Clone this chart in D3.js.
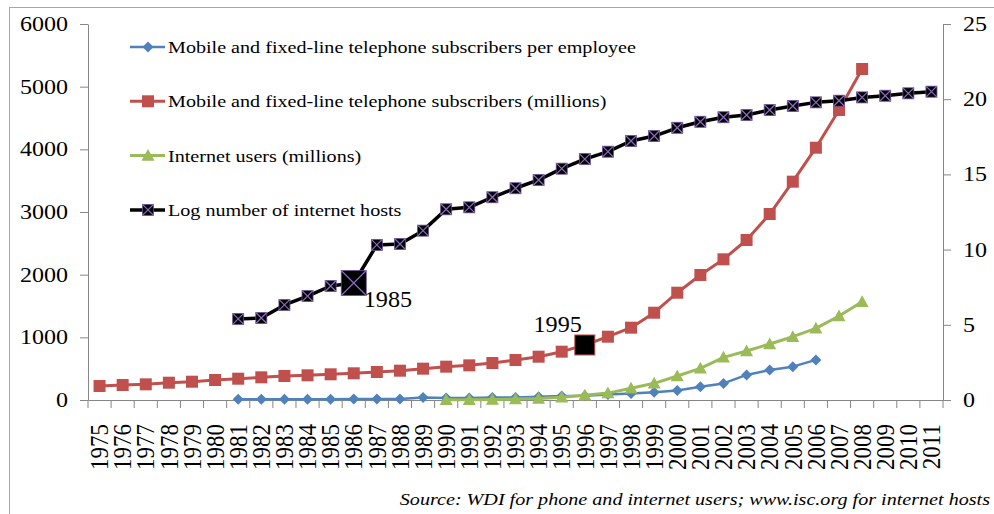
<!DOCTYPE html>
<html>
<head>
<meta charset="utf-8">
<script src="https://cdn.jsdelivr.net/npm/d3@7"></script>
<style>
  body { margin: 0; background: #fff; }
  text { font-family: "Liberation Serif", "Times New Roman", serif; fill: #000; }
</style>
</head>
<body>
<script>
// categories (x axis)
var years = ["1975","1976","1977","1978","1979","1980","1981","1982","1983","1984",
             "1985","1986","1987","1988","1989","1990","1991","1992","1993","1994",
             "1995","1996","1997","1998","1999","2000","2001","2002","2003","2004",
             "2005","2006","2007","2008","2009","2010","2011"];

// subscribers per employee, 1981-2006 (left axis)
var employeeStart = 1981;
var employeeVals = [12,12,12,13,13,14,15,16,40,30,32,40,38,52,62,68,88,105,122,150,212,265,400,478,532,640];

// subscribers (millions), 1975-2008 (left axis)
var phoneStart = 1975;
var phoneVals = [223,239,250,276,292,319,340,362,383,394,410,426,447,468,500,532,553,590,638,691,
                 771,878,1010,1154,1393,1712,1995,2245,2553,2968,3484,4026,4628,5282];

// internet users (millions), 1990-2008 (left axis)
var netStart = 1990;
var netVals = [3,4,7,14,25,45,75,110,186,266,383,505,681,782,894,1010,1144,1340,1569];

// log number of internet hosts, 1981-2011 (right axis)
var hostStart = 1981;
var hostVals = [5.39,5.45,6.32,6.91,7.58,7.78,10.31,10.37,11.26,12.68,12.81,13.48,14.08,14.63,15.38,16.02,
                16.51,17.22,17.55,18.10,18.50,18.80,18.95,19.28,19.55,19.79,19.90,20.12,20.23,20.39,20.50];

var leftTicks = [0,1000,2000,3000,4000,5000,6000];
var rightTicks = [0,5,10,15,20,25];

var legendNames = [
  "Mobile and fixed-line telephone subscribers per employee",
  "Mobile and fixed-line telephone subscribers (millions)",
  "Internet users (millions)",
  "Log number of internet hosts"
];

var width = 994, height = 514;

var svg = d3.select("body").append("svg")
  .attr("width", width)
  .attr("height", height);

// outer chart border
svg.append("rect")
  .attr("x", 9.5).attr("y", 7.5)
  .attr("width", 1000).attr("height", 520)
  .attr("fill", "none")
  .attr("stroke", "#a6a6a6");

var x = d3.scaleBand().domain(years).range([88, 943]);
var yL = d3.scaleLinear().domain([0, 6000]).range([400, 24]);
var yR = d3.scaleLinear().domain([0, 25]).range([400, 24]);

function cx(yr) { return x(String(yr)) + x.bandwidth() / 2; }

var axisColor = "#868686";

// left axis
var gl = svg.append("g").attr("transform", "translate(88,0)")
  .call(d3.axisLeft(yL).tickValues(leftTicks).tickFormat(d3.format("d"))
    .tickSize(8).tickSizeOuter(0).tickPadding(12));
gl.selectAll("text")
  .style("font-size", "20px")
  .attr("transform", function() { return "translate(" + this.getAttribute("x") + ",0) scale(1.2,1)"; })
  .attr("x", 0);

// right axis
var gr = svg.append("g").attr("transform", "translate(943,0)")
  .call(d3.axisRight(yR).tickValues(rightTicks).tickFormat(d3.format("d"))
    .tickSize(8).tickSizeOuter(0).tickPadding(12));
gr.selectAll("text")
  .style("font-size", "20px")
  .attr("transform", function() { return "translate(" + this.getAttribute("x") + ",0) scale(1.2,1)"; })
  .attr("x", 0);

// bottom axis line + boundary ticks
var gb = svg.append("g").attr("transform", "translate(0,400)")
  .call(d3.axisBottom(x).tickSize(0).tickFormat(""));
var bounds = years.map(function(d) { return x(d); }).concat([x.range()[1]]);
gb.selectAll("line.bt").data(bounds).enter().append("line")
  .attr("class", "bt")
  .attr("x1", function(d) { return d; }).attr("x2", function(d) { return d; })
  .attr("y1", 0).attr("y2", 8)
  .attr("stroke", axisColor);

// year labels
svg.append("g").selectAll("text").data(years).enter().append("text")
  .attr("transform", function(d) { return "translate(" + cx(d) + ",424) scale(1.08,1) rotate(-90)"; })
  .attr("text-anchor", "end")
  .attr("dy", "0.35em")
  .style("font-size", "23px")
  .text(function(d) { return d; });

svg.selectAll(".domain, .tick line").attr("stroke", axisColor);

// marker drawing
function marker(g, type, px, py, size, color) {
  var s = size / 2;
  if (type === "diamond") {
    g.append("path")
      .attr("d", "M" + px + "," + (py - s) + "L" + (px + s) + "," + py + "L" + px + "," + (py + s) + "L" + (px - s) + "," + py + "Z")
      .attr("fill", color);
  } else if (type === "square") {
    g.append("rect").attr("x", px - s).attr("y", py - s).attr("width", size).attr("height", size)
      .attr("fill", color);
  } else if (type === "triangle") {
    g.append("path")
      .attr("d", "M" + px + "," + (py - s) + "L" + (px + s) + "," + (py + s * 0.8) + "L" + (px - s) + "," + (py + s * 0.8) + "Z")
      .attr("fill", color);
  } else if (type === "xsquare") {
    g.append("rect").attr("x", px - s).attr("y", py - s).attr("width", size).attr("height", size)
      .attr("fill", "#000").attr("stroke", "#6a4c93").attr("stroke-width", 0.8);
    g.append("path")
      .attr("d", "M" + (px - s) + "," + (py - s) + "L" + (px + s) + "," + (py + s) + "M" + (px + s) + "," + (py - s) + "L" + (px - s) + "," + (py + s))
      .attr("stroke", "#8a6cc0").attr("stroke-width", 1.2);
  }
}

var series = [
  { name: legendNames[0], start: employeeStart, vals: employeeVals, y: yL, color: "#4f81bd", width: 2.5, type: "diamond", size: 11 },
  { name: legendNames[1], start: phoneStart, vals: phoneVals, y: yL, color: "#c0504d", width: 3, type: "square", size: 12 },
  { name: legendNames[2], start: netStart, vals: netVals, y: yL, color: "#9bbb59", width: 3, type: "triangle", size: 13 },
  { name: legendNames[3], start: hostStart, vals: hostVals, y: yR, color: "#000000", width: 3.5, type: "xsquare", size: 11 }
];

// highlighted points
var highlights = [
  { series: 3, year: 1986, size: 25, label: "1985", dx: 10, dy: 24, anchor: "start" },
  { series: 1, year: 1996, size: 20, label: "1995", dx: -3, dy: -13, anchor: "end" }
];

var line = d3.line();

series.forEach(function(s, si) {
  var pts = s.vals.map(function(v, i) { return [cx(s.start + i), s.y(v)]; });
  var g = svg.append("g");
  g.append("path")
    .attr("d", line(pts))
    .attr("fill", "none")
    .attr("stroke", s.color)
    .attr("stroke-width", s.width)
    .attr("stroke-linejoin", "round");
  pts.forEach(function(p, i) {
    var h = highlights.filter(function(d) { return d.series === si && d.year === s.start + i; })[0];
    if (h) {
      if (s.type === "xsquare") {
        marker(g, "xsquare", p[0], p[1], h.size, s.color);
      } else {
        g.append("rect").attr("x", p[0] - h.size / 2).attr("y", p[1] - h.size / 2)
          .attr("width", h.size).attr("height", h.size)
          .attr("fill", "#000").attr("stroke", s.color).attr("stroke-width", 1);
      }
      g.append("text")
        .attr("transform", "translate(" + (p[0] + h.dx) + "," + (p[1] + h.dy) + ") scale(1.05,1)")
        .attr("text-anchor", h.anchor)
        .style("font-size", "23px")
        .text(h.label);
    } else {
      marker(g, s.type, p[0], p[1], s.size, s.color);
    }
  });
});

// legend
var legend = svg.append("g");
series.forEach(function(s, i) {
  var ly = 47 + i * 54.3;
  legend.append("line")
    .attr("x1", 130).attr("x2", 165).attr("y1", ly).attr("y2", ly)
    .attr("stroke", s.color).attr("stroke-width", s.width);
  marker(legend, s.type, 148, ly, s.size, s.color);
  legend.append("text")
    .attr("transform", "translate(168," + ly + ") scale(1.15,1)")
    .attr("dy", "0.35em")
    .style("font-size", "17.5px")
    .text(s.name);
});

// source note
svg.append("text")
  .attr("transform", "translate(990,505) scale(1.15,1)")
  .attr("text-anchor", "end")
  .style("font-size", "17.5px")
  .style("font-style", "italic")
  .text("Source: WDI for phone and internet users; www.isc.org for internet hosts");
</script>
</body>
</html>
